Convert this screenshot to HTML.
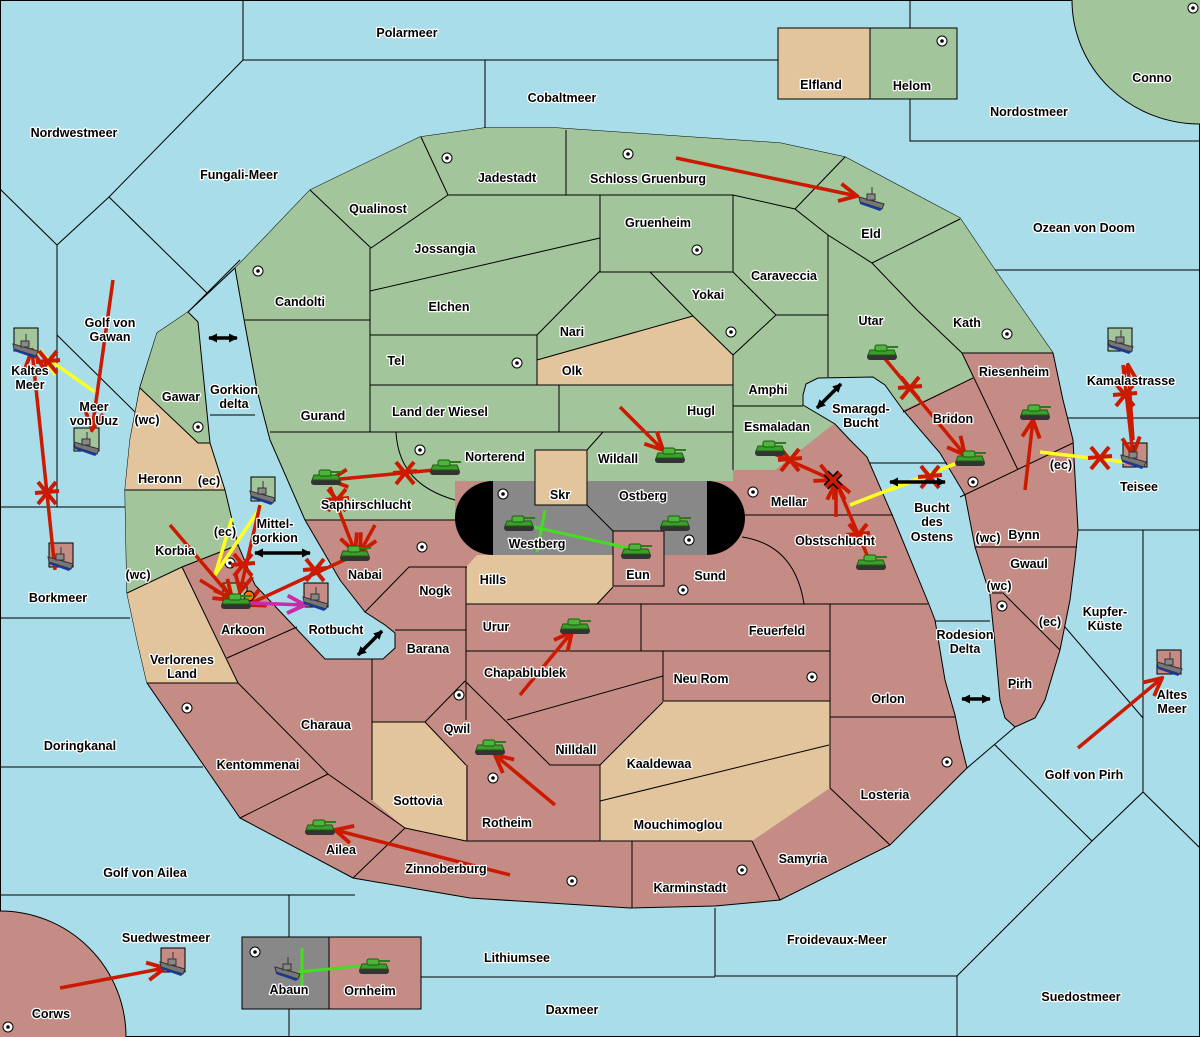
<!DOCTYPE html>
<html><head><meta charset="utf-8"><style>
html,body{margin:0;padding:0;background:#a8dde9;width:1200px;height:1037px;overflow:hidden}
svg{display:block;overflow:hidden;position:absolute;left:0;top:0}
.l{font-family:"Liberation Sans",sans-serif;font-weight:bold;font-size:12.5px;fill:#000;stroke:#fff;stroke-width:2.5px;paint-order:stroke;text-anchor:middle;stroke-linejoin:round}
.b{fill:none;stroke:#000;stroke-width:1}
.r{stroke:#cc1a00;stroke-width:3.5;fill:none}
.y{stroke:#ffff20;stroke-width:3.5;fill:none}
</style></head><body>
<svg width="1200" height="1037" viewBox="0 0 1200 1037" xmlns="http://www.w3.org/2000/svg">
<defs>
<marker id="ah" markerUnits="userSpaceOnUse" viewBox="0 0 20 20" markerWidth="22" markerHeight="22" refX="18" refY="10" orient="auto"><path d="M2,2 L18,10 L2,18" fill="none" stroke="#cc1a00" stroke-width="3.5"/></marker>
<marker id="am" markerUnits="userSpaceOnUse" viewBox="0 0 20 20" markerWidth="22" markerHeight="22" refX="18" refY="10" orient="auto"><path d="M2,2 L18,10 L2,18" fill="none" stroke="#cc2aa8" stroke-width="3.5"/></marker>
<marker id="ab" markerUnits="userSpaceOnUse" viewBox="0 0 10 10" markerWidth="9" markerHeight="10" refX="9" refY="5" orient="auto-start-reverse"><path d="M0,0 L10,5 L0,10 Z" fill="#000"/></marker>
<g id="tk"><rect x="-15" y="1" width="30" height="6" rx="3" fill="#333"/><path d="M-14,2 L-12,-3 L12,-3 L14,2 Z" fill="#3c9e2c" stroke="#1c5a10"/><rect x="-7" y="-8" width="12" height="6" rx="2" fill="#4cb63a" stroke="#1c5a10"/><rect x="4" y="-7" width="12" height="2" fill="#2c7a1c"/></g>
<g id="sh"><path d="M-13,-3 L12,4 L10,9 L-12,2 Z" fill="#777" stroke="#333"/><path d="M-12,2 L10,9 L8,11 L-12,4Z" fill="#1a3a9a"/><rect x="-5" y="-6" width="8" height="6" fill="#888" stroke="#333"/><line x1="0" y1="-13" x2="0" y2="-6" stroke="#333"/></g>
<g id="dt"><circle r="5" fill="#fff" stroke="#000"/><circle r="1.8" fill="#000"/></g>
<g id="x"><path d="M-9,-11 L9,11 M9,-11 L-9,11 M-12,0 L12,-2" stroke="#cc1a00" stroke-width="4" fill="none"/></g>
</defs>
<rect width="1200" height="1037" fill="#a8dde9" stroke="#000" stroke-width="2"/>
<g class="b">
<path d="M243,0V60H778M485,60V128M243,60L109,197L57,245L0,189M109,197L207,293M57,245V507M57,335L135,412M0,507H125M0,618H130M910,0V141H1200M995,270H1200M1068,418H1200M1078,530H1200M1143,530V792M1065,627L1143,718M967,768L993,743L1092,841L1143,792L1200,848M1092,841L957,976H715V908M957,976V1037M421,977H715M0,767H203M0,895H355M289,895V1037M210,415H255M935,621H990M870,463H947"/>
</g>
<ellipse cx="1200" cy="0" rx="128" ry="124" fill="#a3c59b" stroke="#000"/>
<circle cx="0" cy="1037" r="126" fill="#c48c84" stroke="#000"/>
<rect x="778" y="28" width="92" height="71" fill="#e2c59c" stroke="#000"/>
<rect x="870" y="28" width="87" height="71" fill="#a3c59b" stroke="#000"/>
<rect x="242" y="937" width="87" height="72" fill="#888" stroke="#000"/>
<rect x="329" y="937" width="92" height="72" fill="#c48c84" stroke="#000"/>
<polygon fill="#c48c84" stroke="#000" points="125,490 130,440 140,387 157,333 188,312 235,268 245,258 310,190 420,137 484,128 557,128 780,143 845,157 960,218 995,270 1053,353 1063,400 1073,440 1078,530 1075,560 1070,600 1060,650 1045,700 1035,718 1015,727 1005,722 967,768 890,845 780,900 715,906 630,908 470,898 353,878 240,818 147,683 137,640 127,593"/>
<polygon fill="#a3c59b" points="235,268 245,258 310,190 420,137 484,128 557,128 780,143 845,157 960,218 995,270 1053,353 962,353 973,378 903,410 885,385 873,377 818,378 806,384 803,405 835,423 775,470 733,470 733,481 455,481 455,520 305,520 270,440 257,390 245,325"/>
<polygon fill="#a3c59b" points="140,388 157,333 188,312 198,322 210,443 198,443"/>
<polygon fill="#e2c59c" points="140,388 198,443 210,443 225,490 125,490 130,440"/>
<polygon fill="#a3c59b" points="125,490 225,490 238,545 182,567 127,593"/>
<polygon fill="#e2c59c" points="127,593 182,567 238,683 147,683 137,640"/>
<polygon fill="#e2c59c" points="537,360 693,316 733,355 733,385 537,385"/>
<polygon fill="#e2c59c" points="477,555 613,555 613,587 597,604 466,604 466,567"/>
<polygon fill="#e2c59c" points="372,722 425,722 466,765 466,841 405,828 372,800"/>
<polygon fill="#e2c59c" points="600,765 663,701 830,701 830,788 752,841 600,841"/>
<polygon fill="#a8dde9" stroke="#000" points="188,312 198,322 210,443 225,490 238,545 255,585 290,622 325,659 383,659 395,648 395,633 385,625 365,612 340,580 305,520 270,440 257,390 245,325 235,268"/>
<polygon fill="#a8dde9" stroke="#000" points="803,395 806,384 818,378 873,377 885,385 903,410 940,453 965,495 975,547 990,595 995,645 1000,700 1005,718 1015,727 967,768 960,740 955,715 945,680 935,620 928,602 893,517 867,457 850,440 835,424 803,405"/>
<g class="b"><path d="M935,621H990M870,463H947M210,415H255M188,312L240,260"/></g>
<g class="b">
<path d="M421,137L448,195H733L795,209L828,235L872,263L960,219M566,130V195M795,209L845,157M310,190L371,248L448,195M370,248V432M370,291L600,238M600,195V272H733M733,195V272M245,320H370M370,335H537L600,271M537,335V385M370,385H733M537,360L693,316M650,272L693,316L733,355L776,315L733,272M776,315H828M828,235V377M733,355V470M733,406H803M872,263L917,310L962,353M962,353H1053M962,353L1018,470M903,412L973,378M960,497L1073,443M975,547H1077M990,593H1003L1060,650"/>
<path d="M270,432H733M559,385V432M603,432L587,450M305,520H455M396,432C398,470 420,490 455,500"/>
<path d="M140,388L198,443H210M125,490H225M127,593L182,567L238,545M182,567L238,683H147"/>
<path d="M365,612L409,567H467M395,630H466M466,567V720M372,659V800M466,604H830M466,651H830M641,604V651M663,651V701H830M830,604V788M830,604H928M830,717H955M745,515H893M742,537Q795,545 804,604M597,604L613,587M507,720L663,676M465,681L550,765H600L663,702M467,765V841M600,765V841M466,841H752M600,801L829,745M465,681L425,722H372M425,722L466,765M238,683L328,774L405,828M240,818L328,774M353,878L405,828M227,658L297,627M632,841V908M752,841L780,900M830,788L890,845M405,828L466,841"/>
</g>
<path d="M493,481H707A38,37 0 0 1 707,555H493A38,37 0 0 1 493,481Z" fill="#000"/>
<rect x="493" y="481" width="214" height="74" fill="#888"/>
<rect x="535" y="450" width="52" height="55" fill="#e2c59c" stroke="#000"/>
<path d="M587,505L613,531" class="b"/>
<rect x="613" y="531" width="51" height="55" fill="#c48c84" stroke="#000"/>
<g>
<use href="#dt" x="942" y="41"/><use href="#dt" x="447" y="158"/><use href="#dt" x="628" y="154"/><use href="#dt" x="697" y="250"/><use href="#dt" x="258" y="271"/><use href="#dt" x="731" y="332"/><use href="#dt" x="1007" y="334"/><use href="#dt" x="517" y="363"/><use href="#dt" x="198" y="427"/><use href="#dt" x="420" y="450"/><use href="#dt" x="503" y="494"/><use href="#dt" x="689" y="540"/><use href="#dt" x="753" y="492"/><use href="#dt" x="973" y="482"/><use href="#dt" x="422" y="547"/><use href="#dt" x="230" y="563"/><use href="#dt" x="683" y="590"/><use href="#dt" x="1002" y="606"/><use href="#dt" x="812" y="677"/><use href="#dt" x="459" y="695"/><use href="#dt" x="187" y="708"/><use href="#dt" x="947" y="762"/><use href="#dt" x="493" y="778"/><use href="#dt" x="742" y="870"/><use href="#dt" x="572" y="881"/><use href="#dt" x="255" y="952"/><use href="#dt" x="8" y="1027"/><use href="#dt" x="1193" y="8"/>
</g>
<g stroke="#000">
<rect x="14" y="328" width="24" height="23" fill="#a3c59b"/><rect x="74" y="428" width="25" height="23" fill="#a3c59b"/><rect x="49" y="543" width="24" height="24" fill="#c48c84"/><rect x="251" y="477" width="24" height="24" fill="#a3c59b"/><rect x="304" y="583" width="24" height="24" fill="#c48c84"/><rect x="1108" y="328" width="24" height="23" fill="#a3c59b"/><rect x="1123" y="443" width="24" height="24" fill="#c48c84"/><rect x="1157" y="650" width="24" height="24" fill="#c48c84"/><rect x="161" y="948" width="24" height="24" fill="#c48c84"/><rect x="223" y="583" width="24" height="24" fill="#a3c59b"/>
</g>
<g stroke="#44dd22" stroke-width="3" fill="none"><path d="M545,510L537,552M525,525L628,548M298,972L360,966M302,948V992"/></g>
<g class="y"><path d="M38,352L95,392M40,350L55,375M215,575L262,505M215,575L232,518M1040,452L1125,462M850,505L965,460M890,490L930,475"/></g>
<g class="r" marker-end="url(#ah)">
<path d="M676,158L857,196"/><path d="M620,407L663,450"/><path d="M445,469L330,480"/><path d="M330,487L355,552"/><path d="M375,525L360,552"/><path d="M170,525L232,598"/><path d="M355,555L247,605"/><path d="M260,505L240,592"/><path d="M200,580L232,600"/><path d="M881,354L965,455"/><path d="M1025,490L1033,420"/><path d="M1123,365L1133,455"/><path d="M1133,440L1128,365"/><path d="M770,452L833,480"/><path d="M870,562L835,480"/><path d="M836,517L836,482"/><path d="M520,695L572,632"/><path d="M555,805L495,755"/><path d="M510,875L335,830"/><path d="M1078,748L1162,678"/><path d="M60,988L165,968"/><path d="M113,280L92,430"/><path d="M55,570L32,350"/>
</g>
<path d="M250,603L305,605" stroke="#cc2aa8" stroke-width="3.5" marker-end="url(#am)"/>
<g><use href="#x" x="405" y="473"/><use href="#x" x="337" y="500"/><use href="#x" x="243" y="565"/><use href="#x" x="315" y="570"/><use href="#x" x="910" y="388"/><use href="#x" x="1100" y="458"/><use href="#x" x="1125" y="395"/><use href="#x" x="790" y="460"/><use href="#x" x="858" y="535"/><use href="#x" x="930" y="477"/><use href="#x" x="47" y="493"/><use href="#x" x="48" y="362"/></g>
<path d="M826,473L840,487M840,473L826,487" stroke="#000" stroke-width="7"/><path d="M826,473L840,487M840,473L826,487" stroke="#cc1a00" stroke-width="4"/>
<circle cx="249" cy="596" r="5" fill="#ff7700" stroke="#000"/>
<g stroke="#000" stroke-width="3.5" marker-end="url(#ab)" marker-start="url(#ab)">
<path d="M209,338H237"/><path d="M255,553H310"/><path d="M358,655L382,631"/><path d="M817,408L841,384"/><path d="M890,482H945"/><path d="M962,699H990"/>
</g>
<g>
<use href="#tk" x="445" y="468"/><use href="#tk" x="326" y="478"/><use href="#tk" x="355" y="554"/><use href="#tk" x="236" y="602"/><use href="#tk" x="519" y="524"/><use href="#tk" x="636" y="552"/><use href="#tk" x="675" y="524"/><use href="#tk" x="670" y="456"/><use href="#tk" x="770" y="449"/><use href="#tk" x="882" y="353"/><use href="#tk" x="970" y="459"/><use href="#tk" x="1035" y="413"/><use href="#tk" x="871" y="563"/><use href="#tk" x="575" y="627"/><use href="#tk" x="490" y="748"/><use href="#tk" x="320" y="828"/><use href="#tk" x="374" y="967"/>
<use href="#sh" x="26" y="347"/><use href="#sh" x="87" y="445"/><use href="#sh" x="61" y="560"/><use href="#sh" x="263" y="494"/><use href="#sh" x="316" y="600"/><use href="#sh" x="1121" y="343"/><use href="#sh" x="1134" y="458"/><use href="#sh" x="1170" y="665"/><use href="#sh" x="173" y="965"/><use href="#sh" x="288" y="970"/><use href="#sh" x="872" y="200"/>
</g>
<g class="l">
<text x="407" y="37">Polarmeer</text><text x="562" y="102">Cobaltmeer</text><text x="821" y="89">Elfland</text><text x="912" y="90">Helom</text><text x="1152" y="82">Conno</text><text x="1029" y="116">Nordostmeer</text><text x="74" y="137">Nordwestmeer</text><text x="239" y="179">Fungali-Meer</text><text x="507" y="182">Jadestadt</text><text x="648" y="183">Schloss Gruenburg</text><text x="378" y="213">Qualinost</text><text x="658" y="227">Gruenheim</text><text x="871" y="238">Eld</text><text x="1084" y="232">Ozean von Doom</text><text x="445" y="253">Jossangia</text><text x="784" y="280">Caraveccia</text><text x="708" y="299">Yokai</text><text x="300" y="306">Candolti</text><text x="449" y="311">Elchen</text><text x="871" y="325">Utar</text><text x="967" y="327">Kath</text><text x="110" y="327">Golf von</text><text x="110" y="341">Gawan</text><text x="572" y="336">Nari</text><text x="396" y="365">Tel</text><text x="572" y="375">Olk</text><text x="1014" y="376">Riesenheim</text><text x="1131" y="385">Kamalastrasse</text><text x="30" y="375">Kaltes</text><text x="30" y="389">Meer</text><text x="768" y="394">Amphi</text><text x="181" y="401">Gawar</text><text x="234" y="394">Gorkion</text><text x="234" y="408">delta</text><text x="440" y="416">Land der Wiesel</text><text x="701" y="415">Hugl</text><text x="323" y="420">Gurand</text><text x="861" y="413">Smaragd-</text><text x="861" y="427">Bucht</text><text x="94" y="411">Meer</text><text x="94" y="425">von Uuz</text><text x="953" y="423">Bridon</text><text x="147" y="424">(wc)</text><text x="777" y="431">Esmaladan</text><text x="495" y="461">Norterend</text><text x="618" y="463">Wildall</text><text x="160" y="483">Heronn</text><text x="209" y="485">(ec)</text><text x="1061" y="469">(ec)</text><text x="1139" y="491">Teisee</text><text x="560" y="499">Skr</text><text x="643" y="500">Ostberg</text><text x="789" y="506">Mellar</text><text x="366" y="509">Saphirschlucht</text><text x="932" y="512">Bucht</text><text x="932" y="526">des</text><text x="932" y="541">Ostens</text><text x="275" y="528">Mittel-</text><text x="275" y="542">gorkion</text><text x="225" y="536">(ec)</text><text x="1024" y="539">Bynn</text><text x="988" y="542">(wc)</text><text x="835" y="545">Obstschlucht</text><text x="537" y="548">Westberg</text><text x="175" y="555">Korbia</text><text x="1029" y="568">Gwaul</text><text x="138" y="579">(wc)</text><text x="365" y="579">Nabai</text><text x="493" y="584">Hills</text><text x="638" y="579">Eun</text><text x="710" y="580">Sund</text><text x="999" y="590">(wc)</text><text x="435" y="595">Nogk</text><text x="58" y="602">Borkmeer</text><text x="1105" y="616">Kupfer-</text><text x="1105" y="630">Küste</text><text x="1050" y="626">(ec)</text><text x="496" y="631">Urur</text><text x="777" y="635">Feuerfeld</text><text x="243" y="634">Arkoon</text><text x="336" y="634">Rotbucht</text><text x="965" y="639">Rodesion</text><text x="965" y="653">Delta</text><text x="428" y="653">Barana</text><text x="182" y="664">Verlorenes</text><text x="182" y="678">Land</text><text x="525" y="677">Chapablublek</text><text x="701" y="683">Neu Rom</text><text x="1020" y="688">Pirh</text><text x="1172" y="699">Altes</text><text x="1172" y="713">Meer</text><text x="888" y="703">Orlon</text><text x="326" y="729">Charaua</text><text x="457" y="733">Qwil</text><text x="80" y="750">Doringkanal</text><text x="576" y="754">Nilldall</text><text x="258" y="769">Kentommenai</text><text x="659" y="768">Kaaldewaa</text><text x="1084" y="779">Golf von Pirh</text><text x="885" y="799">Losteria</text><text x="418" y="805">Sottovia</text><text x="507" y="827">Rotheim</text><text x="678" y="829">Mouchimoglou</text><text x="341" y="854">Ailea</text><text x="803" y="863">Samyria</text><text x="446" y="873">Zinnoberburg</text><text x="145" y="877">Golf von Ailea</text><text x="690" y="892">Karminstadt</text><text x="166" y="942">Suedwestmeer</text><text x="837" y="944">Froidevaux-Meer</text><text x="517" y="962">Lithiumsee</text><text x="289" y="994">Abaun</text><text x="370" y="995">Ornheim</text><text x="1081" y="1001">Suedostmeer</text><text x="572" y="1014">Daxmeer</text><text x="51" y="1018">Corws</text>
</g>
</svg>
</body></html>
